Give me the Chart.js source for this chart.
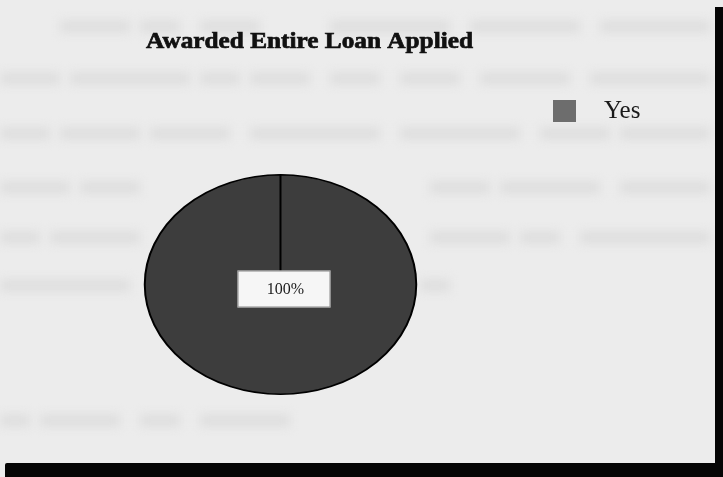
<!DOCTYPE html>
<html>
<head>
<meta charset="utf-8">
<script src="https://cdn.jsdelivr.net/npm/chart.js@4.4.1/dist/chart.umd.min.js"></script>
<style>
  html, body { margin: 0; padding: 0; background: #ececec; }
  #wrap { position: relative; width: 723px; height: 477px; overflow: hidden; background: #ececec; }
  #pieChart { position: absolute; left: 0; top: 0; }
  #ghost { position: absolute; left: 0; top: 0; width: 723px; height: 477px; filter: blur(5px); }
  #ghost div { position: absolute; height: 13px; background: #dfdfdf; }
  .edgeRight { position: absolute; left: 715px; top: 7px; width: 8px; height: 470px; background: #050505; }
  .edgeBottom { position: absolute; left: 5px; top: 463px; width: 718px; height: 14px; background: #050505; border-radius: 2px 0 0 0; }
</style>
</head>
<body>
<div id="wrap">
  <div id="ghost"></div>
  <canvas id="pieChart" width="723" height="477"></canvas>
  <div class="edgeRight"></div>
  <div class="edgeBottom"></div>
</div>
<script>
// chart values
const chartTitle = "Awarded Entire Loan Applied";
const answerLabels = ["Yes"];
const answerPercent = [100];
const sliceColors = ["#3d3d3d"];
const legendColors = ["#6d6d6d"];

// faint print showing through the paper, word by word: [top, left, width]
const ghostRows = [
    [20, 60, 70], [20, 140, 40], [20, 200, 60], [20, 330, 120], [20, 470, 110], [20, 600, 110],
    [72, 0, 60], [72, 70, 120], [72, 200, 40], [72, 250, 60], [72, 330, 50], [72, 400, 60], [72, 480, 90], [72, 590, 120],
    [127, 0, 50], [127, 60, 80], [127, 150, 80], [127, 250, 130], [127, 400, 120], [127, 540, 70], [127, 620, 90],
    [181, 0, 70], [181, 80, 60], [181, 430, 60], [181, 500, 100], [181, 620, 90],
    [231, 0, 40], [231, 50, 90], [231, 430, 80], [231, 520, 40], [231, 580, 130],
    [279, 0, 130], [279, 420, 30],
    [414, 0, 30], [414, 40, 80], [414, 140, 40], [414, 200, 90]
];
const ghost = document.getElementById("ghost");
ghostRows.forEach(r => {
    const d = document.createElement("div");
    d.style.top = r[0] + "px";
    d.style.left = r[1] + "px";
    d.style.width = r[2] + "px";
    ghost.appendChild(d);
});

// pie is drawn as an ellipse: stretch x around the centre
const ovalPlugin = {
    id: 'oval',
    beforeDatasetsDraw: (chart) => {
        const arc = chart.getDatasetMeta(0).data[0];
        const ctx = chart.ctx;
        ctx.save();
        ctx.translate(arc.x, arc.y);
        ctx.scale(271 / 219, 1);
        ctx.translate(-arc.x, -arc.y);
    },
    afterDatasetsDraw: (chart) => {
        chart.ctx.restore();
    }
};

// title, legend and the value box
const labelsPlugin = {
    id: 'labels',
    afterDraw: (chart) => {
        const ctx = chart.ctx;
        ctx.save();

        // title, squeezed to its printed width and thickened a little
        ctx.fillStyle = "#111";
        ctx.strokeStyle = "#111";
        ctx.lineWidth = 0.7;
        ctx.font = "bold 23px 'Liberation Serif'";
        ctx.textBaseline = "alphabetic";
        ctx.textAlign = "left";
        const tw = ctx.measureText(chartTitle).width;
        ctx.save();
        ctx.translate(146, 48);
        ctx.scale(327 / tw, 1);
        ctx.fillText(chartTitle, 0, 0);
        ctx.strokeText(chartTitle, 0, 0);
        ctx.restore();

        // legend
        for (var i = 0; i < answerLabels.length; i++) {
            ctx.fillStyle = legendColors[i];
            ctx.fillRect(553, 100 + i * 30, 23, 22);
            ctx.fillStyle = "#1a1a1a";
            ctx.font = "25px 'Liberation Serif'";
            ctx.textBaseline = "alphabetic";
            ctx.fillText(answerLabels[i], 604, 118 + i * 30);
        }

        // percentage box at the centre of the slice
        const meta = chart.getDatasetMeta(0);
        const total = answerPercent.reduce((a, b) => a + b, 0);
        for (var j = 0; j < meta.data.length; j++) {
            const arc = meta.data[j];
            const txt = Math.round(answerPercent[j] / total * 100) + "%";
            const bx = arc.x + 3, by = arc.y + 5;
            ctx.fillStyle = "#f6f6f6";
            ctx.fillRect(bx - 46, by - 19, 93, 37);
            ctx.strokeStyle = "#888";
            ctx.lineWidth = 1;
            ctx.strokeRect(bx - 46 + 0.5, by - 19 + 0.5, 92, 36);
            ctx.fillStyle = "#1a1a1a";
            ctx.font = "16px 'Liberation Serif'";
            ctx.textAlign = "center";
            ctx.textBaseline = "middle";
            ctx.fillText(txt, bx + 2, by);
        }
        ctx.restore();
    }
};

var ctxP = document.getElementById("pieChart").getContext('2d');
var myPieChart = new Chart(ctxP, {
    type: 'pie',
    data: {
        labels: answerLabels,
        datasets: [{
            data: answerPercent,
            backgroundColor: sliceColors,
            borderColor: "#000",
            borderWidth: 1.6
        }]
    },
    options: {
        responsive: false,
        animation: false,
        layout: {
            padding: { left: 170, right: 723 - 391, top: 174, bottom: 477 - 395 }
        },
        plugins: {
            legend: { display: false },
            title: { display: false },
            tooltip: { enabled: false }
        }
    },
    plugins: [ovalPlugin, labelsPlugin]
});
</script>
</body>
</html>
